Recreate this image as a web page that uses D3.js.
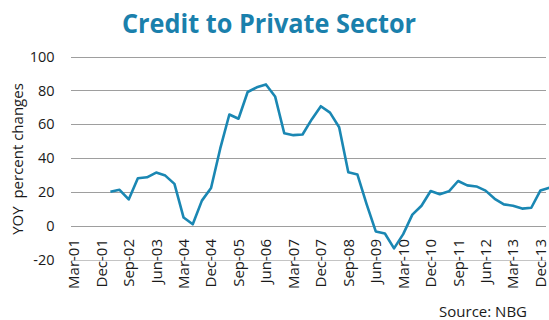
<!DOCTYPE html>
<html>
<head>
<meta charset="utf-8">
<script src="https://cdn.jsdelivr.net/npm/d3@7"></script>
<style>
  body { margin: 0; background: #fff; }
  text { font-family: "Open Sans", sans-serif; fill: #1a1a1a; }
</style>
</head>
<body>
<div id="chart"></div>
<script>
// quarterly categories, Mar-01 .. Mar-14
var quarters = [
    "Mar-01", "Jun-01", "Sep-01", "Dec-01",
    "Mar-02", "Jun-02", "Sep-02", "Dec-02",
    "Mar-03", "Jun-03", "Sep-03", "Dec-03",
    "Mar-04", "Jun-04", "Sep-04", "Dec-04",
    "Mar-05", "Jun-05", "Sep-05", "Dec-05",
    "Mar-06", "Jun-06", "Sep-06", "Dec-06",
    "Mar-07", "Jun-07", "Sep-07", "Dec-07",
    "Mar-08", "Jun-08", "Sep-08", "Dec-08",
    "Mar-09", "Jun-09", "Sep-09", "Dec-09",
    "Mar-10", "Jun-10", "Sep-10", "Dec-10",
    "Mar-11", "Jun-11", "Sep-11", "Dec-11",
    "Mar-12", "Jun-12", "Sep-12", "Dec-12",
    "Mar-13", "Jun-13", "Sep-13", "Dec-13",
    "Mar-14"
];

// YOY percent change, null where there is no data
var credit = [
    null, null, null, null,
    20.0, 21.2, 15.5, 28.0,
    28.6, 31.4, 29.6, 24.7,
    4.8, 0.8, 14.8, 22.3,
    45.5, 65.7, 63.2, 79.0,
    81.8, 83.5, 76.4, 54.6,
    53.5, 53.9, 62.8, 70.6,
    66.8, 58.2, 31.6, 30.2,
    12.8, -3.4, -4.6, -13.4,
    -5.0, 6.5, 11.8, 20.5,
    18.6, 20.3, 26.4, 23.8,
    23.2, 20.7, 15.9, 12.6,
    11.8, 10.1, 10.6, 20.8,
    22.5
];

var tickLabels = ["Mar-01", "Dec-01", "Sep-02", "Jun-03", "Mar-04", "Dec-04",
    "Sep-05", "Jun-06", "Mar-07", "Dec-07", "Sep-08", "Jun-09", "Mar-10",
    "Dec-10", "Sep-11", "Jun-12", "Mar-13", "Dec-13"];

var yTicks = [-20, 0, 20, 40, 60, 80, 100];

var W = 549, H = 320;
var plotLeft = 71, plotRight = 546;

var svg = d3.select("#chart").append("svg")
    .attr("width", W)
    .attr("height", H);

var x = d3.scalePoint()
    .domain(quarters)
    .range([73.8, 549.6]);

var y = d3.scaleLinear()
    .domain([-20, 100])
    .range([259.5, 56.5]);

// title
svg.append("text")
    .attr("x", 269)
    .attr("y", 33)
    .attr("text-anchor", "middle")
    .attr("textLength", 294)
    .attr("lengthAdjust", "spacingAndGlyphs")
    .style("font-size", "27px")
    .style("font-weight", "bold")
    .style("fill", "#1a80ac")
    .text("Credit to Private Sector");

// gridlines
svg.append("g")
    .selectAll("line")
    .data(yTicks)
    .enter()
    .append("line")
    .attr("x1", plotLeft)
    .attr("x2", plotRight)
    .attr("y1", function (d) { return Math.round(y(d)) + 0.5; })
    .attr("y2", function (d) { return Math.round(y(d)) + 0.5; })
    .style("stroke", function (d) { return d === -20 ? "#c4c4c4" : "#9e9e9e"; })
    .style("stroke-width", 1);

// y tick labels
svg.append("g")
    .selectAll("text")
    .data(yTicks)
    .enter()
    .append("text")
    .attr("x", 54.5)
    .attr("y", function (d) { return y(d); })
    .attr("dy", "0.36em")
    .attr("text-anchor", "end")
    .style("font-size", "14.5px")
    .text(function (d) { return d; });

// x tick labels (rotated, hanging below the zero line)
svg.append("g")
    .selectAll("text")
    .data(tickLabels)
    .enter()
    .append("text")
    .attr("transform", function (d) {
        return "translate(" + x(d) + "," + 239 + ") rotate(-90)";
    })
    .attr("dy", "0.36em")
    .attr("text-anchor", "end")
    .style("font-size", "15px")
    .text(function (d) { return d; });

// y axis title
svg.append("text")
    .attr("transform", "translate(18,159) rotate(-90)")
    .attr("dy", "0.36em")
    .attr("text-anchor", "middle")
    .style("font-size", "15px")
    .style("white-space", "pre")
    .text("YOY  percent changes");

// the line
var line = d3.line()
    .defined(function (d) { return d.v !== null; })
    .x(function (d) { return x(d.q); })
    .y(function (d) { return y(d.v); });

var series = quarters.map(function (q, i) { return { q: q, v: credit[i] }; });

svg.append("path")
    .datum(series)
    .attr("d", line)
    .style("fill", "none")
    .style("stroke", "#1a87b3")
    .style("stroke-width", 2.6)
    .style("stroke-linejoin", "round");

// source note
svg.append("text")
    .attr("x", 527)
    .attr("y", 317)
    .attr("text-anchor", "end")
    .style("font-size", "15px")
    .text("Source: NBG");
</script>
</body>
</html>
